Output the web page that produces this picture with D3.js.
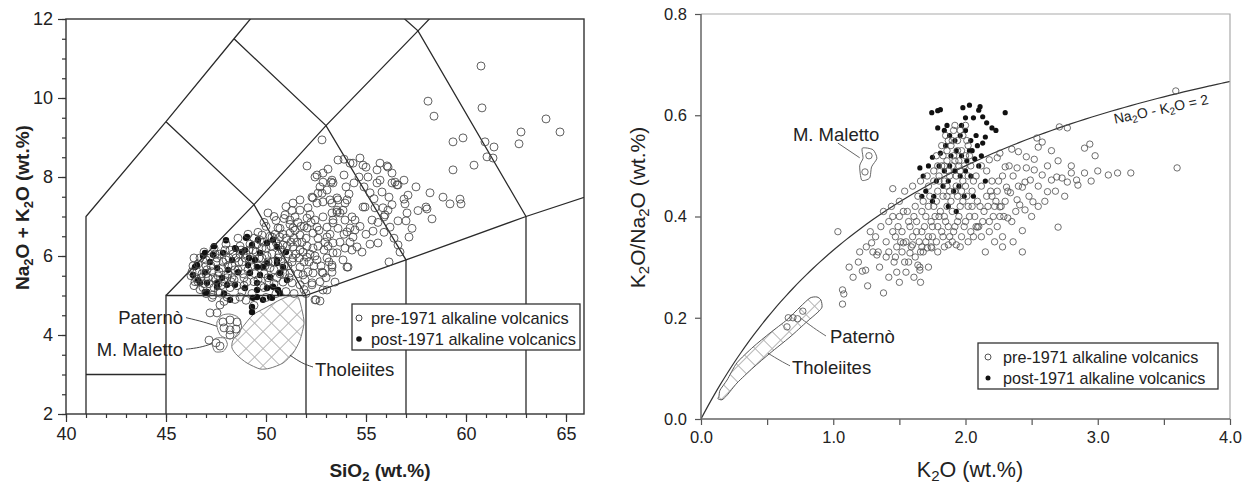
<!DOCTYPE html>
<html><head><meta charset="utf-8">
<script src="https://cdn.jsdelivr.net/npm/d3@7"></script>
<style>
body{margin:0;background:#fff}
svg{display:block}
text{font-family:"Liberation Sans",Arial,Helvetica,sans-serif;fill:#222}
</style>
</head><body>
<svg id="chart" width="1256" height="483"></svg>
<script>
// ---------------- LEFT PANEL (TAS) DATA ----------------
const tasXTicks = [40,45,50,55,60,65];
const tasYTicks = [2,4,6,8,10,12];
const tasXMinor = d3.range(40,66,1);
const tasYMinor = d3.range(2,12.01,0.5);

const tasBoundaries = [
  [[41,2],[41,7],[45,9.4],[48.4,11.5],[52.5,14]],
  [[41,3],[45,3]],
  [[45,2],[45,5],[52,5]],
  [[45,5],[49.4,7.3],[53,9.3],[57.6,11.7],[61,13.5]],
  [[45,9.4],[49.4,7.3],[52,5]],
  [[48.4,11.5],[53,9.3],[57,5.9]],
  [[52.5,14],[57.6,11.7],[63,7]],
  [[52,2],[52,5],[57,5.9],[63,7],[69,8]],
  [[57,2],[57,5.9]],
  [[63,2],[63,7]]
];

const pre1971TAS = [
[60.75,10.81],[58.1,9.92],[58.4,9.54],[60.8,9.75],[64.0,9.47],[64.7,9.14],[62.75,9.14],[62.65,8.84],[59.35,8.89],[59.85,8.99],[60.95,8.89],[61.4,8.76],[61.05,8.51],[61.35,8.48],[60.4,8.3],[59.35,8.18],
[52.8,8.94],[52.05,8.28],[53.6,8.43],[54.7,8.48],[54.35,8.35],[55.0,8.25],[55.55,8.18],[56.05,8.28],[54.65,8.0],[55.7,7.92],[56.45,7.87],[56.9,7.92],[56.6,7.8],[55.8,7.62],[56.15,7.49],[57.1,7.54],[56.95,7.32],[57.05,7.09],[56.6,6.89],[57.0,6.89],[58.0,7.24],[58.05,7.19],[58.3,6.94],[58.85,7.49],[59.2,7.32],[59.7,7.44],[59.75,7.32],[55.3,6.91],[55.9,6.99],[55.85,7.22],[56.1,7.16],[54.95,7.24],[54.15,7.57],[54.05,7.42],[53.7,7.09],[53.2,7.42],[52.7,7.75],[52.45,8.0],[52.85,7.87],[53.25,7.87],[52.8,7.59],[52.3,7.49],[51.7,7.42],
[55.6,6.33],[56.6,6.28],[56.15,5.85],[52.85,5.14],[52.5,4.89],[52.7,4.86],[52.3,5.32],[53.45,5.34],[52.8,5.59],[53.3,5.59],[54.05,5.72],[54.3,6.15],[53.55,6.08],
[53.95,7.34],[53.85,7.16],[53.95,6.91],[54.3,6.99],[54.45,6.91],[53.55,7.11],[53.6,7.42],[53.35,6.91],[54.2,6.71],[54.35,6.48],[54.05,6.61],[54.55,6.23],[53.95,6.2],[53.85,5.9],[54.1,5.72],[53.35,6.08],[53.3,5.72],[53.35,7.85],[53.7,6.35],[54.45,6.66],[54.2,6.35],
[54.85,7.24],[55.45,7.22],[55.95,7.04],[55.35,6.63],[56.2,6.73],[57.15,6.48],[56.9,7.44],[56.3,7.85],[56.55,7.8],[55.55,7.85],[54.85,8.3],[54.2,8.35],[56.1,8.25],
[52.55,8.05],[52.85,8.1],[53.3,7.92],[53.05,7.67],[52.6,7.59],[52.35,7.47],[50.1,7.09],[50.95,7.04],[51.35,7.34],[52.1,7.22],[52.55,7.34],[52.85,7.37],[53.3,7.34],[53.55,7.47],[51.7,7.16],[51.2,6.91],[51.45,6.99],[52.05,6.96],[52.45,6.91],[52.85,6.99],[53.3,7.09],[53.55,7.16],[50.6,6.71],[51.35,6.71],[52.05,6.71],[52.55,6.73],[53.05,6.73],[53.35,6.84],[49.8,6.53],[50.3,6.48],
[50.7,6.48],[51.2,6.58],[51.7,6.53],[52.35,6.58],[53.05,6.48],[53.35,6.33],[50.85,6.28],[51.35,6.23],[51.7,6.15],[52.35,6.2],[52.05,5.97],[52.55,5.9],[53.05,5.95],[53.3,5.77],[51.3,5.85],[51.7,5.72],[51.2,5.57],[51.85,5.52],[52.35,5.57],[52.85,5.57],[50.85,5.34],[51.3,5.32],[51.7,5.27],[52.3,5.27],[53.05,5.14],[47.35,5.01],[47.7,5.06],[48.05,4.96],[48.7,4.96],[47.2,4.56],[47.55,4.56],[47.7,4.76],[52.45,4.89],
[47.85,4.33],[48.2,4.38],[48.55,4.33],[47.9,4.18],[48.2,4.13],[48.5,4.15],[48.2,4.0],
[47.15,3.87],[47.5,3.8],[47.7,3.72],
[46.3,5.6],[46.5,5.45],[46.6,5.8],[46.8,5.55],[46.9,5.3],[47.0,5.75],[47.1,5.45],[47.2,5.95],[47.3,5.6],[47.4,5.2],[47.5,5.85],[47.6,5.5],[47.7,6.05],[47.8,5.7],[47.9,5.35],[48.0,5.9],[48.1,5.55],[48.2,6.15],[48.3,5.75],[48.4,5.4],[48.5,5.95],[48.6,5.65],[48.7,6.25],[48.8,5.85],[48.9,5.45],[49.0,6.05],[49.1,5.65],[49.2,6.3],[49.3,5.9],[49.4,5.35],[49.5,6.1],[49.6,5.75],[49.7,6.4],[49.8,5.95],[49.9,5.55],[50.0,6.2],[50.1,5.85],[50.2,6.5],[50.3,6.05],[50.4,5.65],[50.5,6.35],[50.6,5.95],[50.7,6.7],[50.8,6.15],[50.9,5.75],[51.0,6.45],[51.1,6.05],[51.2,6.8],[51.4,6.45],[51.5,6.05],[51.6,5.55],[51.8,6.35],[51.9,5.85],[52.0,6.45],[52.1,5.6],[52.2,6.05],[52.4,5.75],[52.6,6.25],[52.7,5.35],[52.9,6.15],[53.0,5.45],[53.1,6.25],
[46.7,5.15],[47.0,5.05],[47.6,5.1],[48.2,5.2],[48.8,5.1],[49.3,5.05],[49.9,5.2],[50.4,5.3],[46.4,5.95],[46.9,6.1],[47.4,6.2],[48.0,6.3],[48.6,6.45],[49.1,6.55],[49.6,6.6],[50.0,6.75],[50.5,6.9],
[47.3,4.95],[47.9,4.85],[48.45,4.9],[49.0,4.88],[49.4,4.75],[50.0,4.95],[50.5,5.05],[51.0,5.1],[51.4,5.05],
[47.6,5.3],[48.3,5.45],[48.9,5.25],[49.6,5.4],[50.1,5.45],[50.7,5.55],[51.1,5.75],[50.6,6.25],[50.2,5.7],[49.8,6.2],[49.4,6.45],[48.7,6.05],[48.1,5.75],[47.5,5.4],[47.0,5.55],[46.6,5.35],[46.4,5.25],
[51.9,6.75],[52.2,7.05],[51.6,6.85],[50.9,6.95],[51.3,7.15],[50.4,7.0],[49.9,6.85],[51.0,7.25],[52.6,6.45],[53.2,6.55],[53.6,6.7],[53.9,6.55],[54.7,6.75],[55.0,6.55],[54.8,6.1],[55.2,6.3],[55.6,6.85],[55.9,6.6],[56.4,6.45],[56.7,6.1],[57.3,6.7],[55.2,7.6],[55.1,8.0],[54.4,7.85],[53.9,8.05],[54.0,7.75],[55.7,8.35],[56.3,8.1],[53.1,8.2],[53.9,8.45],[54.9,7.75],[55.4,7.45],[56.3,7.3],[57.5,7.75],[57.6,7.15],[58.2,7.6],
[52.0,5.05],[51.9,5.15],
[46.25,5.5],[46.35,5.75],[46.45,5.35],[46.55,5.6],[46.7,5.95],[46.75,5.45],[46.85,5.2],[47.0,5.9],[47.05,5.65],[47.15,5.3],[47.25,5.75],[47.35,5.45],[47.45,6.05],[47.55,5.95],[47.65,5.6],[47.75,5.25],[47.85,5.85],[47.95,6.15],[48.05,5.45],[48.15,5.95],[48.25,5.35],[48.35,6.05],[48.45,5.65],[48.55,5.25],[48.65,5.85],[48.75,6.15],[48.85,5.55],[48.95,5.95],[49.05,5.35],[49.15,6.15],[49.25,5.75],[49.35,6.15],[49.45,5.55],[49.55,6.3],[49.65,5.95],[49.75,5.25],[49.85,6.35],[49.95,5.75],[50.05,6.0],[50.15,5.35],[50.25,6.25],[50.35,5.85],[50.45,6.55],[50.55,5.45],[50.65,6.05],[50.75,5.85],[50.85,6.55],[50.95,5.55],[51.05,6.25],[51.15,5.45],[51.25,6.35],[51.35,5.95],[51.45,6.65],[51.55,6.35],[51.65,5.95],[51.75,6.75],[51.85,6.1],[51.95,5.4],[52.05,6.25],[52.15,5.85],[52.25,6.85],[52.45,6.0],[52.65,6.65],[52.75,5.75],[52.95,6.35],[53.15,5.85]
];

const post1971TAS = [
[46.95,6.08],[47.35,6.03],[47.85,6.08],[48.45,6.2],[48.8,6.1],[49.05,6.48],[49.3,6.28],[49.6,6.41],[49.7,6.08],[50.05,6.33],[50.35,6.41],[50.55,6.23],[49.1,5.77],[49.55,5.72],[50.05,5.82],[50.55,5.82],[50.85,5.72],[46.45,5.72],[46.95,5.59],[47.55,5.7],[48.1,5.65],[48.6,5.59],[49.2,5.57],[49.7,5.52],[50.2,5.47],[50.7,5.57],[46.6,5.39],[47.05,5.32],[47.55,5.32],[48.05,5.27],[48.45,5.27],[48.95,5.19],[49.55,5.14],[50.05,5.19],[50.6,5.14],[46.95,5.09],[48.2,4.89],[49.55,4.96],[49.85,4.89],[50.3,4.94],[49.3,4.71],[49.3,4.58],[46.85,6.0],[46.55,5.77],[46.35,5.52],[46.7,5.32],[47.05,5.09],[47.55,5.22],[48.5,6.18],[48.95,6.15],[49.45,5.9],[49.85,5.72],[50.55,5.9],[50.35,5.22],[49.35,4.94],[50.2,4.96],[49.55,5.32],[50.7,5.06],[51.05,5.39],[49.0,6.46],
[47.2,5.85],[47.8,5.45],[48.3,5.9],[49.15,5.95],[47.9,5.05],[47.4,6.25],[48.0,6.4],[51.0,6.1]
];

const tholeiitesTAS = [[48.35,3.87],[48.8,4.18],[49.35,4.51],[50.05,4.71],[50.7,4.89],[51.2,4.99],[51.6,4.97],[51.8,4.63],[51.9,4.30],[51.7,3.87],[51.35,3.54],[50.85,3.29],[50.2,3.16],[49.7,3.14],[49.05,3.29],[48.55,3.49],[48.3,3.67]];
const paternoTAS = [[47.55,4.33],[47.8,4.5],[48.2,4.53],[48.6,4.45],[48.78,4.23],[48.62,4.0],[48.2,3.9],[47.75,3.98],[47.58,4.15]];
const malettoTAS = [[47.3,3.8],[47.5,3.92],[47.92,3.92],[48.07,3.76],[47.87,3.59],[47.45,3.58]];

const tasLabels = [
  {text:"Paternò", x:45.85, y:4.29, anchor:"end", lead:[[46.0,4.44],[46.9,4.33],[47.55,4.22]]},
  {text:"M. Maletto", x:45.85, y:3.48, anchor:"end", lead:[[46.0,3.64],[46.7,3.68],[47.3,3.78]]},
  {text:"Tholeiites", x:52.45, y:2.96, anchor:"start", lead:[[51.2,3.49],[51.8,3.28],[52.35,3.19]]}
];

// ---------------- RIGHT PANEL DATA ----------------
const kXTicks = [0,1,2,3,4];
const kXMinor = [0.5,1.5,2.5,3.5];
const kYTicks = [0,0.2,0.4,0.6,0.8];
const curveK2O = d3.range(0,4.0001,0.05); // Na2O - K2O = 2 reference line

const pre1971K = [
[1.45,0.455],[1.035,0.37],[3.59,0.648],[2.71,0.577],[2.77,0.575],[2.9,0.535],[2.94,0.543],[2.54,0.555],[2.58,0.547],[2.55,0.537],[2.35,0.533],[2.4,0.528],[2.46,0.518],[2.52,0.513],[2.26,0.525],[2.24,0.516],[2.18,0.512],[2.3,0.498],[2.39,0.496],[2.46,0.496],[3.6,0.496],[3.08,0.482],[3.15,0.486],[3.25,0.486],[2.9,0.486],[2.8,0.486],[2.73,0.476],[2.77,0.468],[2.84,0.472],[2.85,0.462],[2.69,0.478],[2.65,0.472],[2.62,0.449],[2.58,0.482],[2.52,0.492],[2.49,0.472],[2.45,0.468],[2.43,0.458],[2.39,0.433],[2.41,0.423],[2.45,0.413],[2.51,0.429],[2.31,0.458],[2.34,0.447],[2.26,0.419],[2.32,0.397],[2.43,0.372],[2.7,0.379],[2.09,0.379],
[2.43,0.33],[1.87,0.344],[1.93,0.344],[1.71,0.338],[1.655,0.30],
[1.19,0.31],[1.22,0.292],[1.245,0.294],[1.26,0.263],[1.38,0.249],[1.07,0.255],[1.08,0.247],[1.07,0.227],[1.29,0.348],[1.33,0.324],[1.30,0.33],[1.47,0.32],[1.58,0.328],[1.64,0.304],[1.655,0.294],[1.6,0.344],[1.67,0.34],[1.745,0.338],[1.53,0.348],
[0.66,0.2],[0.695,0.2],[0.73,0.198],[0.65,0.182],[0.77,0.213],
[1.27,0.52],[1.24,0.488],
[1.32,0.36],[1.36,0.38],[1.40,0.35],[1.42,0.39],[1.45,0.37],[1.48,0.34],[1.50,0.40],[1.52,0.37],[1.55,0.35],[1.56,0.41],[1.58,0.38],[1.60,0.36],[1.62,0.42],[1.63,0.39],[1.65,0.35],[1.67,0.37],[1.68,0.43],[1.70,0.40],[1.72,0.36],[1.73,0.44],[1.75,0.38],[1.76,0.42],[1.78,0.35],[1.80,0.40],[1.82,0.37],[1.83,0.44],[1.85,0.39],[1.86,0.42],[1.88,0.36],[1.90,0.41],[1.92,0.38],[1.94,0.44],[1.95,0.40],[1.97,0.36],[1.98,0.43],[2.00,0.39],[2.02,0.42],[2.04,0.37],[2.05,0.45],[2.07,0.40],[2.09,0.43],[2.10,0.38],[2.12,0.46],[2.14,0.41],[2.16,0.44],[2.18,0.39],[2.20,0.47],[2.22,0.42],[2.24,0.45],[2.26,0.40],[2.28,0.48],[2.30,0.43],
[1.38,0.41],[1.44,0.42],[1.50,0.43],[1.54,0.45],[1.60,0.46],[1.66,0.47],[1.71,0.48],[1.76,0.49],[1.80,0.47],[1.84,0.50],[1.88,0.48],[1.92,0.51],[1.96,0.49],[2.00,0.52],[2.04,0.50],[2.08,0.48],[2.12,0.50],[2.16,0.49],[2.20,0.44],[2.25,0.47],
[1.34,0.33],[1.40,0.32],[1.46,0.31],[1.52,0.33],[1.57,0.31],[1.62,0.32],[1.68,0.33],[1.74,0.34],[1.79,0.33],[1.84,0.34],[1.90,0.35],[1.96,0.34],[2.02,0.35],[2.06,0.36],[2.12,0.36],[2.18,0.37],[2.24,0.38],
[1.48,0.29],[1.55,0.29],[1.61,0.28],[1.66,0.27],[1.72,0.30],[1.50,0.27],
[1.25,0.34],[1.28,0.37],[1.20,0.33],[1.15,0.28],[1.12,0.30],[1.35,0.30],[1.42,0.28],
[1.78,0.52],[1.82,0.54],[1.86,0.53],[1.90,0.55],[1.94,0.53],[1.98,0.56],[2.02,0.54],[1.85,0.56],[1.92,0.58],[1.95,0.50],[1.72,0.46],[1.79,0.45],[1.86,0.46],[1.93,0.46],[2.00,0.46],[2.06,0.47],
[2.32,0.45],[2.36,0.48],[2.38,0.41],[2.33,0.50],[2.40,0.46],[2.48,0.44],[2.55,0.46],[2.60,0.43],[2.62,0.50],[2.68,0.45],[2.55,0.42],[2.50,0.40],[2.35,0.39],[2.28,0.36],[2.22,0.35],[2.15,0.33],[2.28,0.34],[2.36,0.35],[2.75,0.44],[2.80,0.50],[2.95,0.47],[3.0,0.49],[2.98,0.52],[2.65,0.53],[2.70,0.51],
[1.42,0.33],[1.45,0.40],[1.47,0.36],[1.49,0.38],[1.51,0.35],[1.53,0.41],[1.54,0.31],[1.57,0.39],[1.59,0.34],[1.61,0.40],[1.63,0.37],[1.64,0.44],[1.66,0.33],[1.67,0.41],[1.69,0.38],[1.70,0.35],[1.72,0.42],[1.74,0.39],[1.75,0.36],[1.77,0.40],[1.78,0.43],[1.79,0.38],[1.81,0.41],[1.83,0.36],[1.84,0.40],[1.86,0.44],[1.87,0.38],[1.89,0.43],[1.91,0.37],[1.92,0.45],[1.94,0.39],[1.96,0.42],[1.97,0.45],[1.99,0.38],[2.01,0.44],[2.03,0.40],[2.05,0.42],[2.08,0.38],[2.11,0.42],[2.13,0.39],[2.17,0.42],[2.19,0.45],[2.21,0.40],[2.23,0.43],[2.27,0.42],[2.29,0.40],
[1.80,0.48],[1.82,0.50],[1.84,0.47],[1.86,0.51],[1.87,0.49],[1.89,0.54],[1.90,0.50],[1.91,0.52],[1.93,0.48],[1.94,0.55],[1.95,0.51],[1.97,0.53],[1.98,0.47],[1.99,0.50],[2.01,0.55],[2.02,0.48],[2.03,0.52],[1.83,0.52],[1.88,0.45],[1.96,0.57],[1.91,0.57],[1.87,0.55],[2.0,0.58],[1.76,0.47],[1.79,0.50]
];

const post1971K = [
[1.745,0.605],[1.79,0.609],[1.79,0.575],[1.655,0.496],[1.75,0.517],[1.81,0.611],[1.98,0.615],[2.03,0.62],[2.11,0.617],[2.1,0.61],[2.3,0.605],[2.0,0.595],[2.06,0.595],[2.13,0.597],[2.16,0.585],[1.97,0.58],[1.86,0.58],[1.84,0.57],[2.2,0.575],[2.23,0.57],[2.15,0.557],[2.13,0.545],[1.81,0.525],[2.03,0.53],[2.07,0.514],
[1.88,0.56],[1.92,0.55],[1.96,0.56],[2.00,0.57],[2.04,0.55],[2.08,0.56],[1.85,0.54],[1.89,0.52],[1.93,0.53],[1.97,0.52],[2.01,0.51],[2.05,0.53],[2.09,0.54],[1.80,0.50],[1.84,0.49],[1.88,0.50],[1.92,0.49],[1.96,0.48],[2.00,0.49],[2.04,0.48],[1.78,0.47],[1.83,0.46],[1.87,0.47],[1.91,0.45],[1.95,0.46],[1.99,0.44],[1.76,0.44],[1.87,0.42],[1.93,0.41],[1.70,0.45],[1.72,0.50],[1.68,0.48],[2.10,0.50],[2.12,0.52],[2.15,0.47],[2.06,0.44],[1.67,0.44],[1.75,0.43]
];

const tholeiitesK = [[0.136,0.045],[0.144,0.057],[0.197,0.077],[0.272,0.111],[0.393,0.142],[0.522,0.170],[0.65,0.196],[0.748,0.221],[0.824,0.239],[0.877,0.241],[0.907,0.235],[0.915,0.221],[0.884,0.211],[0.80,0.192],[0.673,0.162],[0.522,0.130],[0.393,0.101],[0.272,0.071],[0.197,0.047],[0.159,0.038],[0.128,0.040]];
const malettoK = [[1.22,0.535],[1.30,0.532],[1.33,0.515],[1.29,0.498],[1.275,0.476],[1.215,0.472],[1.20,0.50],[1.225,0.515]];

const kLabels = [
  {text:"M. Maletto", x:0.695, y:0.549, lead:[[1.035,0.545],[1.20,0.516]]},
  {text:"Paternò", x:0.975, y:0.150, lead:[[0.75,0.2],[0.85,0.18],[0.945,0.164]]},
  {text:"Tholeiites", x:0.688, y:0.088, lead:[[0.506,0.130],[0.6,0.115],[0.673,0.105]]}
];

const legendLabels = ["pre-1971 alkaline volcanics","post-1971 alkaline volcanics"];

// ---------------- DRAWING ----------------
const svg = d3.select("#chart");
const defs = svg.append("defs");
const pat = defs.append("pattern").attr("id","hatch").attr("patternUnits","userSpaceOnUse")
  .attr("width",12).attr("height",12).attr("patternTransform","rotate(45)");
pat.append("path").attr("d","M0,0.5H12M0.5,0V12").attr("stroke","#b5b5b5").attr("stroke-width",1).attr("fill","none");

// ===== LEFT =====
const xL = d3.scaleLinear().domain([40,65.9]).range([66,584]);
const yL = d3.scaleLinear().domain([2,12]).range([414,19]);
defs.append("clipPath").attr("id","clipL").append("rect")
  .attr("x",xL(40)).attr("y",yL(12)).attr("width",xL(65.9)-xL(40)).attr("height",yL(2)-yL(12));

const gL = svg.append("g");
const lineL = d3.line().x(d=>xL(d[0])).y(d=>yL(d[1]));
const gLc = gL.append("g").attr("clip-path","url(#clipL)");
gLc.selectAll("path.bnd").data(tasBoundaries).join("path").attr("class","bnd")
  .attr("d",lineL).attr("fill","none").attr("stroke","#2a2a2a").attr("stroke-width",1.3);

const closedL = d3.line().x(d=>xL(d[0])).y(d=>yL(d[1])).curve(d3.curveCardinalClosed.tension(0.3));
gLc.append("path").datum(tholeiitesTAS).attr("d",closedL).attr("fill","url(#hatch)").attr("stroke","#777").attr("stroke-width",1);

gLc.selectAll("circle.post").data(post1971TAS).join("circle").attr("class","post")
  .attr("cx",d=>xL(d[0])).attr("cy",d=>yL(d[1])).attr("r",3.2).attr("fill","#111");
gLc.selectAll("circle.pre").data(pre1971TAS).join("circle").attr("class","pre")
  .attr("cx",d=>xL(d[0])).attr("cy",d=>yL(d[1])).attr("r",4)
  .attr("fill","none").attr("stroke","#444").attr("stroke-width",0.85);

gLc.append("path").datum(paternoTAS).attr("d",closedL).attr("fill","none").attr("stroke","#777").attr("stroke-width",1);
gLc.append("path").datum(malettoTAS).attr("d",closedL).attr("fill","none").attr("stroke","#777").attr("stroke-width",1);

const leadCurve = d3.line().x(d=>xL(d[0])).y(d=>yL(d[1])).curve(d3.curveBasis);
tasLabels.forEach(l=>{
  gL.append("path").attr("d",leadCurve(l.lead)).attr("fill","none").attr("stroke","#444").attr("stroke-width",1);
  gL.append("text").attr("x",xL(l.x)).attr("y",yL(l.y)).attr("text-anchor",l.anchor)
    .attr("font-size",18.5).text(l.text);
});

gL.append("rect").attr("x",xL(40)).attr("y",yL(12)).attr("width",xL(65.9)-xL(40)).attr("height",yL(2)-yL(12))
  .attr("fill","none").attr("stroke","#333").attr("stroke-width",1.4);

function styleAxis(g, color, fs){
  g.select(".domain").remove();
  g.selectAll(".tick line").attr("stroke",color).attr("stroke-width",1.2);
  g.selectAll(".tick text").attr("font-size",fs).attr("fill","#333")
    .attr("font-family","'Liberation Sans',Arial,sans-serif");
}
const axLx = gL.append("g").attr("transform",`translate(0,${yL(2)})`)
  .call(d3.axisBottom(xL).tickValues(tasXTicks).tickSize(8).tickPadding(5).tickFormat(d3.format("d")));
styleAxis(axLx,"#333",18);
const axLxm = gL.append("g").attr("transform",`translate(0,${yL(2)})`)
  .call(d3.axisBottom(xL).tickValues(tasXMinor).tickSize(4).tickFormat(""));
styleAxis(axLxm,"#333",18);
const axLy = gL.append("g").attr("transform",`translate(${xL(40)},0)`)
  .call(d3.axisLeft(yL).tickValues(tasYTicks).tickSize(8).tickPadding(5).tickFormat(d3.format("d")));
styleAxis(axLy,"#333",18);
const axLym = gL.append("g").attr("transform",`translate(${xL(40)},0)`)
  .call(d3.axisLeft(yL).tickValues(tasYMinor).tickSize(4).tickFormat(""));
styleAxis(axLym,"#333",18);

const tL = gL.append("text").attr("x",380).attr("y",477).attr("text-anchor","middle")
  .attr("font-size",19).attr("font-weight","bold");
tL.append("tspan").text("SiO");
tL.append("tspan").attr("font-size",13).attr("dy",4).text("2");
tL.append("tspan").attr("dy",-4).text(" (wt.%)");

const tLy = gL.append("text").attr("transform",`translate(29,${(yL(2)+yL(12))/2-9}) rotate(-90)`)
  .attr("text-anchor","middle").attr("font-size",19).attr("font-weight","bold");
tLy.append("tspan").text("Na");
tLy.append("tspan").attr("font-size",13).attr("dy",4).text("2");
tLy.append("tspan").attr("dy",-4).text("O + K");
tLy.append("tspan").attr("font-size",13).attr("dy",4).text("2");
tLy.append("tspan").attr("dy",-4).text("O (wt.%)");

const lgL = gL.append("g");
lgL.append("rect").attr("x",352).attr("y",304).attr("width",228).attr("height",46)
  .attr("fill","#fff").attr("stroke","#333").attr("stroke-width",1.3);
lgL.append("circle").attr("cx",359).attr("cy",318).attr("r",3).attr("fill","none").attr("stroke","#444");
lgL.append("circle").attr("cx",359).attr("cy",339).attr("r",2.8).attr("fill","#111");
lgL.selectAll("text").data(legendLabels).join("text").attr("x",371).attr("y",(d,i)=>324+i*21)
  .attr("font-size",16.4).text(d=>d);

// ===== RIGHT =====
const xR = d3.scaleLinear().domain([0,4]).range([701,1230]);
const yR = d3.scaleLinear().domain([0,0.8]).range([419,14]);
const gR = svg.append("g");
defs.append("clipPath").attr("id","clipR").append("rect")
  .attr("x",xR(0)).attr("y",yR(0.8)).attr("width",xR(4)-xR(0)).attr("height",yR(0)-yR(0.8));
const gRc = gR.append("g").attr("clip-path","url(#clipR)");

gR.append("path").attr("d",`M${xR(0)},${yR(0.8)}H${xR(4)}V${yR(0)}`).attr("fill","none").attr("stroke","#aaa").attr("stroke-width",1.2);

const closedR = d3.line().x(d=>xR(d[0])).y(d=>yR(d[1])).curve(d3.curveCardinalClosed.tension(0.3));
gRc.append("path").datum(tholeiitesK).attr("d",closedR).attr("fill","url(#hatch)").attr("stroke","#555").attr("stroke-width",1);

const curveLine = d3.line().x(d=>xR(d)).y(d=>yR(d/(d+2))).curve(d3.curveMonotoneX);
gRc.append("path").datum(curveK2O).attr("d",curveLine).attr("fill","none").attr("stroke","#333").attr("stroke-width",1.2);

gRc.selectAll("circle.post").data(post1971K).join("circle").attr("class","post")
  .attr("cx",d=>xR(d[0])).attr("cy",d=>yR(d[1])).attr("r",2.6).attr("fill","#111");
gRc.selectAll("circle.pre").data(pre1971K).join("circle").attr("class","pre")
  .attr("cx",d=>xR(d[0])).attr("cy",d=>yR(d[1])).attr("r",3.2)
  .attr("fill","none").attr("stroke","#555").attr("stroke-width",0.85);

gRc.append("path").datum(malettoK).attr("d",closedR).attr("fill","none").attr("stroke","#555").attr("stroke-width",0.9);

const leadR = d3.line().x(d=>xR(d[0])).y(d=>yR(d[1])).curve(d3.curveBasis);
kLabels.forEach(l=>{
  gR.append("path").attr("d",leadR(l.lead)).attr("fill","none").attr("stroke","#666").attr("stroke-width",1);
  gR.append("text").attr("x",xR(l.x)).attr("y",yR(l.y)).attr("font-size",18.5).text(l.text);
});

const cl = gR.append("text").attr("transform",`translate(${xR(3.13)},${yR(0.583)}) rotate(-12)`).attr("font-size",14);
cl.append("tspan").text("Na");
cl.append("tspan").attr("font-size",10).attr("dy",3).text("2");
cl.append("tspan").attr("dy",-3).text("O - K");
cl.append("tspan").attr("font-size",10).attr("dy",3).text("2");
cl.append("tspan").attr("dy",-3).text("O = 2");

const axRx = gR.append("g").attr("transform",`translate(0,${yR(0)})`)
  .call(d3.axisBottom(xR).tickValues(kXTicks).tickSize(6).tickPadding(6).tickFormat(d3.format(".1f")));
styleAxis(axRx,"#555",16.5);
const axRxm = gR.append("g").attr("transform",`translate(0,${yR(0)})`)
  .call(d3.axisBottom(xR).tickValues(kXMinor).tickSize(6).tickFormat(""));
styleAxis(axRxm,"#555",16.5);
const axRy = gR.append("g").attr("transform",`translate(${xR(0)},0)`)
  .call(d3.axisLeft(yR).tickValues(kYTicks).tickSize(6).tickPadding(8).tickFormat(d3.format(".1f")));
styleAxis(axRy,"#555",16.5);
gR.append("path").attr("d",`M${xR(0)},${yR(0.8)}V${yR(0)}H${xR(4)}`).attr("fill","none").attr("stroke","#666").attr("stroke-width",1.5);

const tR = gR.append("text").attr("x",970).attr("y",477).attr("text-anchor","middle").attr("font-size",21.5);
tR.append("tspan").text("K");
tR.append("tspan").attr("font-size",15).attr("dy",4).text("2");
tR.append("tspan").attr("dy",-4).text("O (wt.%)");

const tRy = gR.append("text").attr("transform",`translate(645,${(yR(0)+yR(0.8))/2-9}) rotate(-90)`)
  .attr("text-anchor","middle").attr("font-size",21);
tRy.append("tspan").text("K");
tRy.append("tspan").attr("font-size",15).attr("dy",4).text("2");
tRy.append("tspan").attr("dy",-4).text("O/Na");
tRy.append("tspan").attr("font-size",15).attr("dy",4).text("2");
tRy.append("tspan").attr("dy",-4).text("O (wt.%)");

const lgR = gR.append("g");
lgR.append("rect").attr("x",978).attr("y",343).attr("width",240).attr("height",46)
  .attr("fill","#fff").attr("stroke","#333").attr("stroke-width",1.3);
lgR.append("circle").attr("cx",988).attr("cy",357).attr("r",3).attr("fill","none").attr("stroke","#555");
lgR.append("circle").attr("cx",988).attr("cy",378).attr("r",2.5).attr("fill","#111");
lgR.selectAll("text").data(legendLabels).join("text").attr("x",1003).attr("y",(d,i)=>363+i*21)
  .attr("font-size",16.2).text(d=>d);
</script>
</body></html>
